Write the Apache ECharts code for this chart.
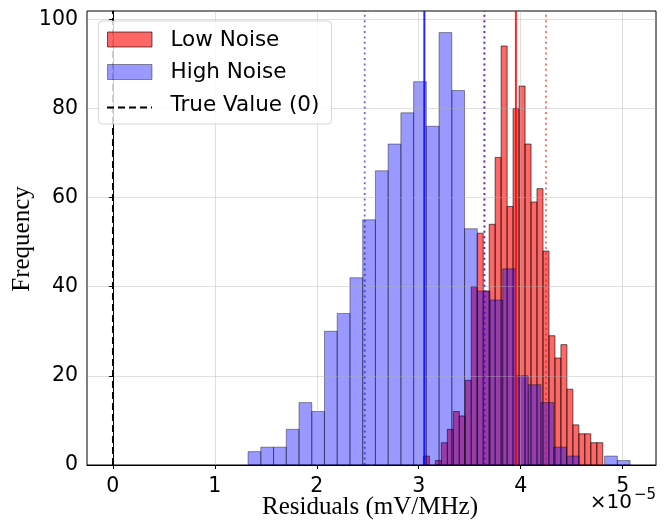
<!DOCTYPE html>
<html><head><meta charset="utf-8">
<script src="https://cdn.jsdelivr.net/npm/echarts@6/dist/echarts.min.js"></script>
<style>html,body{margin:0;padding:0;background:#fff}#c{width:667px;height:520px}</style>
</head><body><div id="c"></div>
<script>
// ---- data ----
const lowNoiseCounts  = [2,0,1,5,8,12,11,19,40,52,39,54,69,94,58,80,85,72,59,62,48,29,24,27,17,9,7,7,5,5];
const lowNoiseRange   = [3.046, 4.805];   // histogram range (x 1e-5)
const highNoiseCounts = [3,4,4,8,14,12,30,34,42,55,66,72,79,86,76,97,84,53,39,37,44,20,18,14,4,2,0,0,2,1];
const highNoiseRange  = [1.326, 5.073];
const lowNoiseMean    = [3.953];
const lowNoiseStd     = [3.644, 4.248];
const highNoiseMean   = [3.055];
const highNoiseStd    = [2.470, 3.644];
const trueValue       = [0];
const xTicks = [0, 1, 2, 3, 4, 5];
const yTicks = [0, 20, 40, 60, 80, 100];
const xLimits = [-0.2537, 5.327];
const yLimits = [0, 101.85];

function toBins(counts, range) {
  const w = (range[1] - range[0]) / counts.length;
  return counts.map((c, i) => [range[0] + i * w, range[0] + (i + 1) * w, c]);
}
function histRender(fill, stroke) {
  return function (params, api) {
    const h = api.value(2);
    if (h <= 0) return null;
    const p0 = api.coord([api.value(0), 0]);
    const p1 = api.coord([api.value(1), h]);
    return {
      type: 'rect',
      shape: { x: p0[0], y: p1[1], width: p1[0] - p0[0], height: p0[1] - p1[1] },
      style: { fill: fill, stroke: stroke, lineWidth: 1 }
    };
  };
}
function vline(x, color, width, type, opacity) {
  return {
    type: 'line', silent: true, z: 6, symbol: 'none', animation: false,
    data: [[x, yLimits[0]], [x, yLimits[1]]],
    lineStyle: { color: color, width: width, type: type, opacity: opacity }
  };
}

const chart = echarts.init(document.getElementById('c'), null, { renderer: 'canvas' });
const tickFont = { fontFamily: 'DejaVu Sans', fontSize: 20.5, color: '#000' };
const gridLine = { show: true, lineStyle: { color: 'rgba(176,176,176,0.4)', width: 1 } };
const dotted = [2, 3.4];
const series = [
  { type: 'custom', name: 'Low Noise', z: 2, data: toBins(lowNoiseCounts, lowNoiseRange),
    encode: { x: [0, 1], y: 2 }, renderItem: histRender('rgba(255,0,0,0.6)', 'rgba(0,0,0,0.6)') },
  { type: 'custom', name: 'High Noise', z: 2, data: toBins(highNoiseCounts, highNoiseRange),
    encode: { x: [0, 1], y: 2 }, renderItem: histRender('rgba(0,0,255,0.4)', 'rgba(0,0,0,0.4)') },
  vline(trueValue[0], '#000', 1.8, [7, 4], 1),
  vline(lowNoiseMean[0], '#ff0000', 2, 'solid', 0.85),
  vline(lowNoiseStd[0], '#ff0000', 1.8, dotted, 0.6),
  vline(lowNoiseStd[1], '#ff0000', 1.8, dotted, 0.6),
  vline(highNoiseMean[0], '#0000ff', 2, 'solid', 0.85),
  vline(highNoiseStd[0], '#0000ff', 1.8, dotted, 0.6),
  vline(highNoiseStd[1], '#0000ff', 1.8, dotted, 0.6)
];

const legendFont = '21.5px "DejaVu Sans"';
const option = {
  animation: false,
  backgroundColor: '#fff',
  grid: { left: 87, right: 11, top: 11, bottom: 55, show: true, borderColor: '#000', borderWidth: 1,
          backgroundColor: 'transparent', containLabel: false, outerBoundsMode: 'none' },
  xAxis: {
    type: 'value', min: xLimits[0], max: xLimits[1], z: 3,
    axisLine: { show: true, onZero: false, lineStyle: { color: '#000', width: 1 } },
    axisTick: { show: true, inside: false, length: 4, customValues: xTicks, lineStyle: { color: '#000' } },
    axisLabel: Object.assign({ customValues: xTicks, margin: 11 }, tickFont),
    splitLine: gridLine
  },
  yAxis: {
    type: 'value', min: yLimits[0], max: yLimits[1], z: 3,
    axisLine: { show: true, lineStyle: { color: '#000', width: 1 } },
    axisTick: { show: true, inside: false, length: 4, customValues: yTicks, lineStyle: { color: '#000' } },
    axisLabel: Object.assign({ customValues: yTicks, margin: 9 }, tickFont),
    splitLine: gridLine
  },
  series: series,
  graphic: [
    { type: 'rect', z: 100, shape: { x: 98.5, y: 21, width: 233, height: 103, r: 4 },
      style: { fill: 'rgba(255,255,255,0.8)', stroke: 'rgba(204,204,204,0.8)', lineWidth: 1 } },
    { type: 'rect', z: 101, shape: { x: 107.5, y: 32, width: 44.5, height: 15 },
      style: { fill: 'rgba(255,0,0,0.6)', stroke: 'rgba(0,0,0,0.6)', lineWidth: 1 } },
    { type: 'rect', z: 101, shape: { x: 107.5, y: 64.5, width: 44.5, height: 15 },
      style: { fill: 'rgba(0,0,255,0.4)', stroke: 'rgba(0,0,0,0.4)', lineWidth: 1 } },
    { type: 'line', z: 101, shape: { x1: 107, y1: 107.5, x2: 152, y2: 107.5 },
      style: { stroke: '#000', lineWidth: 1.8, lineDash: [7, 4] } },
    { type: 'text', z: 101, x: 170.5, y: 40,
      style: { text: 'Low Noise', font: legendFont, fill: '#000', align: 'left', verticalAlign: 'middle' } },
    { type: 'text', z: 101, x: 170.5, y: 72.5,
      style: { text: 'High Noise', font: legendFont, fill: '#000', align: 'left', verticalAlign: 'middle' } },
    { type: 'text', z: 101, x: 170.5, y: 105.5,
      style: { text: 'True Value (0)', font: legendFont, fill: '#000', align: 'left', verticalAlign: 'middle' } },
    { type: 'text', z: 101, x: 370, y: 507,
      style: { text: 'Residuals (mV/MHz)', font: '25px "Liberation Serif"', fill: '#000', align: 'center', verticalAlign: 'middle' } },
    { type: 'text', z: 101, x: 22, y: 239, rotation: Math.PI / 2,
      style: { text: 'Frequency', font: '25px "Liberation Serif"', fill: '#000', align: 'center', verticalAlign: 'middle' } },
    { type: 'text', z: 101, x: 632, y: 503,
      style: { text: '\u00d710', font: '20px "DejaVu Sans"', fill: '#000', align: 'right', verticalAlign: 'middle' } },
    { type: 'text', z: 101, x: 634, y: 495,
      style: { text: '\u22125', font: '15px "DejaVu Sans"', fill: '#000', align: 'left', verticalAlign: 'middle' } }
  ]
};
chart.setOption(option);
</script>
</body></html>
